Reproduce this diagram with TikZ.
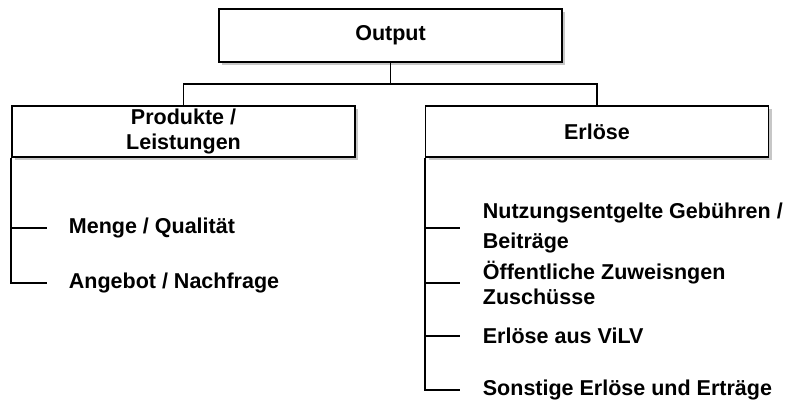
\documentclass[tikz,border=0pt]{standalone}
\usepackage{fontspec}
\setmainfont{Liberation Sans}
\usetikzlibrary{positioning,shadows}

\begin{document}
\begin{tikzpicture}[%
       x=1pt, y=-1pt,
       line width=1.8pt,
       font=\fontsize{21.5}{25}\selectfont\bfseries,
       box/.style={draw, fill=white, minimum width=343pt, minimum height=51pt,
         align=center, inner sep=0pt,
         drop shadow={shadow xshift=3pt, shadow yshift=-3pt, fill=black!22, opacity=1}},
       item/.style={anchor=west, align=left, inner sep=0pt}
     ]
     \useasboundingbox (0,0) rectangle (794,403);
     \coordinate (busy) at (0,84);

     \node[box, minimum height=53pt] (out)  at (390.5,35.5) {Output};
     \node[box]                      (prod) at (183.5,131.5) {Produkte /\\Leistungen};
     \node[box]                      (erl)  at (597,131.5)   {Erlöse};

     \node[item] (menge)   at (68,228) {Menge / Qualität};
     \node[item] (angebot) at (68,283) {Angebot / Nachfrage};

     \node[item] (nutz)  at (482,228) {Nutzungsentgelte Gebühren /\\[5pt]Beiträge};
     \node[item] (oeff)  at (482,283) {Öffentliche Zuweisngen\\Zuschüsse};
     \node[item] (vilv)  at (482,336) {Erlöse aus ViLV};
     \node[item] (sonst) at (482,390) {Sonstige Erlöse und Erträge};

     % tree
     \draw (out.south) -- (out.south |- busy);
     \draw (prod.north) |- (out.south |- busy) -| (erl.north);

     \draw (prod.south west) |- ([xshift=-21pt]angebot.west);
     \draw (prod.south west |- menge.west) -- ([xshift=-21pt]menge.west);

     \draw (erl.south west) |- ([xshift=-22pt]sonst.west);
     \foreach \n in {nutz,oeff,vilv}
       \draw (erl.south west |- \n.west) -- ([xshift=-22pt]\n.west);
\end{tikzpicture}
\end{document}
